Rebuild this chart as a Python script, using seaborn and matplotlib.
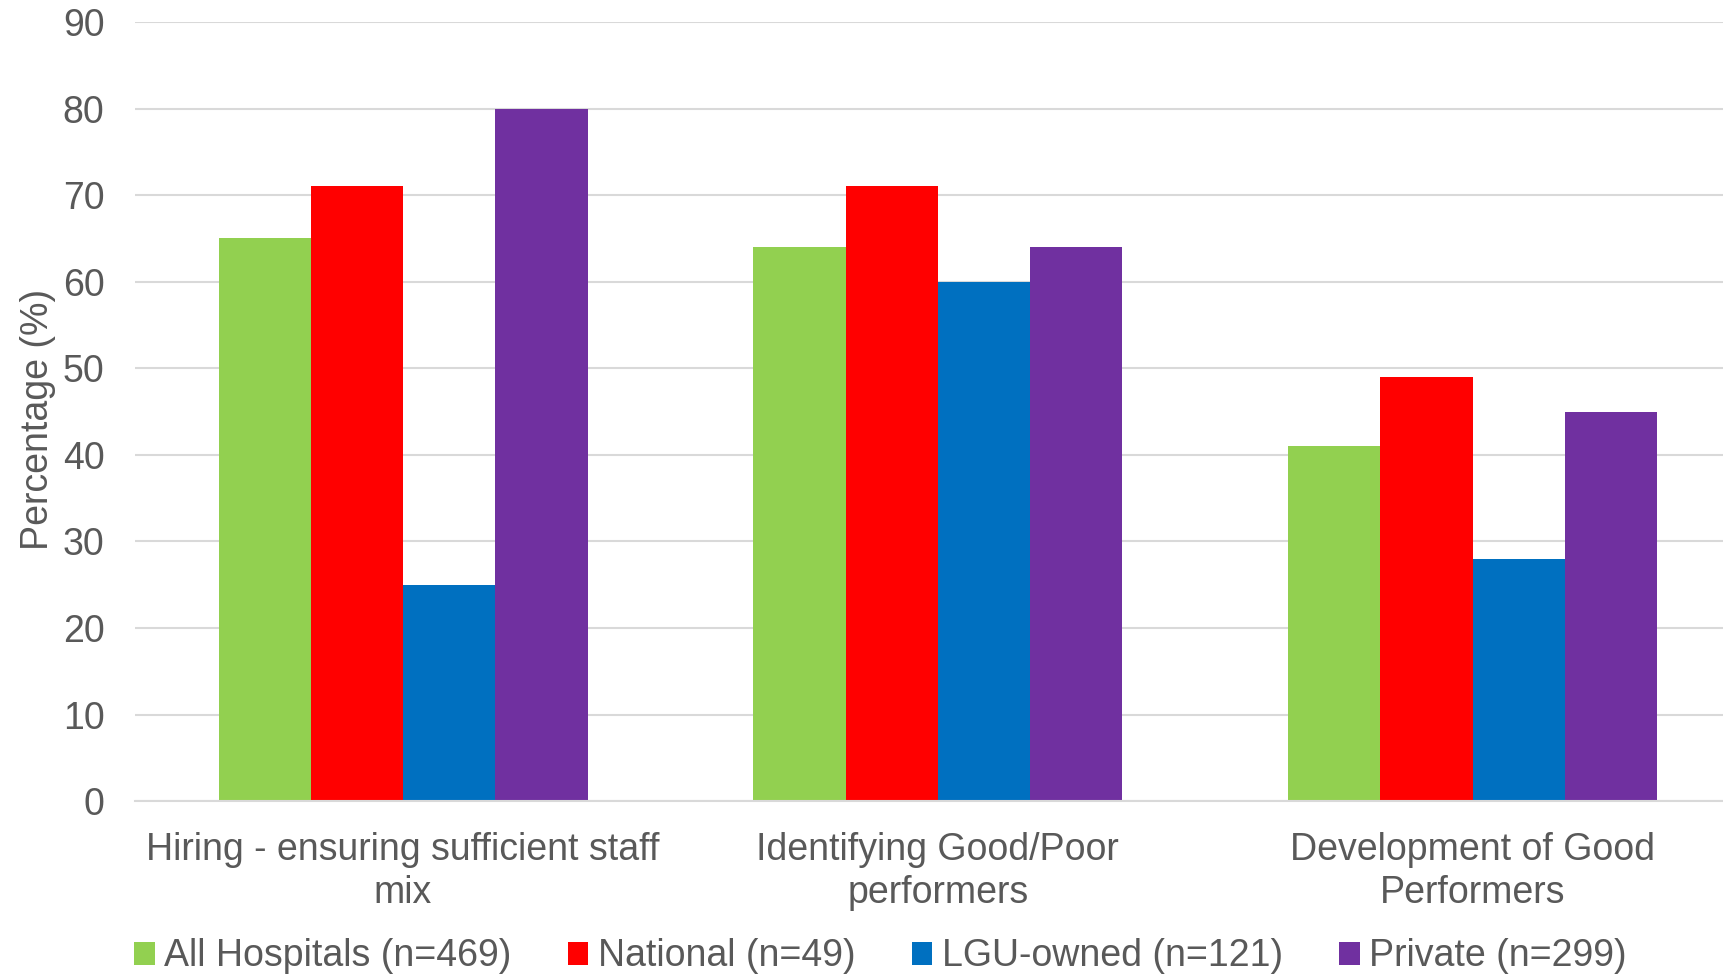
import matplotlib
matplotlib.use("Agg")
import matplotlib.pyplot as plt
import seaborn as sns
import pandas as pd

categories = [
    "Hiring - ensuring sufficient staff\nmix",
    "Identifying Good/Poor\nperformers",
    "Development of Good\nPerformers",
]
groups = [
    "All Hospitals (n=469)",
    "National (n=49)",
    "LGU-owned (n=121)",
    "Private (n=299)",
]
all_hospitals = [65, 64, 41]
national = [71, 71, 49]
lgu_owned = [25, 60, 28]
private = [80, 64, 45]
y_ticks = [0, 10, 20, 30, 40, 50, 60, 70, 80, 90]

colors = ["#92D050", "#FF0000", "#0070C0", "#7030A0"]

rows = []
for grp, vals in zip(groups, [all_hospitals, national, lgu_owned, private]):
    for cat, v in zip(categories, vals):
        rows.append({"Category": cat, "Group": grp, "Value": v})
df = pd.DataFrame(rows)

sns.set_theme(style="white")
plt.rcParams["font.family"] = ["Liberation Sans", "DejaVu Sans"]
text_color = "#595959"
fs = 27

fig = plt.figure(figsize=(17.23, 9.77), dpi=100)
ax = fig.add_axes([0.0784, 0.180, 0.9216, 0.7975])

sns.barplot(
    data=df, x="Category", y="Value", hue="Group",
    order=categories, hue_order=groups, palette=colors,
    width=0.69, saturation=1, errorbar=None, ax=ax, legend=True,
    linewidth=0,
)

ax.set_ylim(0, 90)
ax.set_yticks(y_ticks)
ax.set_xlim(-0.501, 2.468)
ax.yaxis.grid(True, color="#D9D9D9", linewidth=1.5)
ax.set_axisbelow(True)
for side in ["left", "right", "top"]:
    ax.spines[side].set_visible(False)
ax.spines["bottom"].set_color("#D9D9D9")
ax.spines["bottom"].set_linewidth(1.5)

ax.tick_params(axis="y", length=0, pad=22, labelsize=fs, labelcolor=text_color)
ax.tick_params(axis="x", length=0, pad=22, labelsize=fs, labelcolor=text_color)
for lbl in ax.get_xticklabels():
    lbl.set_linespacing(1.25)

ax.set_xlabel("")
ax.set_ylabel("Percentage (%)", fontsize=fs, color=text_color)
ax.yaxis.set_label_coords(-0.05, 0.49)

handles, labels = ax.get_legend_handles_labels()
ax.get_legend().remove()
fig.legend(
    handles, labels, loc="center", bbox_to_anchor=(0.511, 0.021),
    ncol=4, frameon=False, fontsize=fs, labelcolor=text_color,
    handlelength=0.55, handleheight=0.55, handletextpad=0.25,
    columnspacing=1.5,
)

fig.savefig("out.png", dpi=100, facecolor="white")
